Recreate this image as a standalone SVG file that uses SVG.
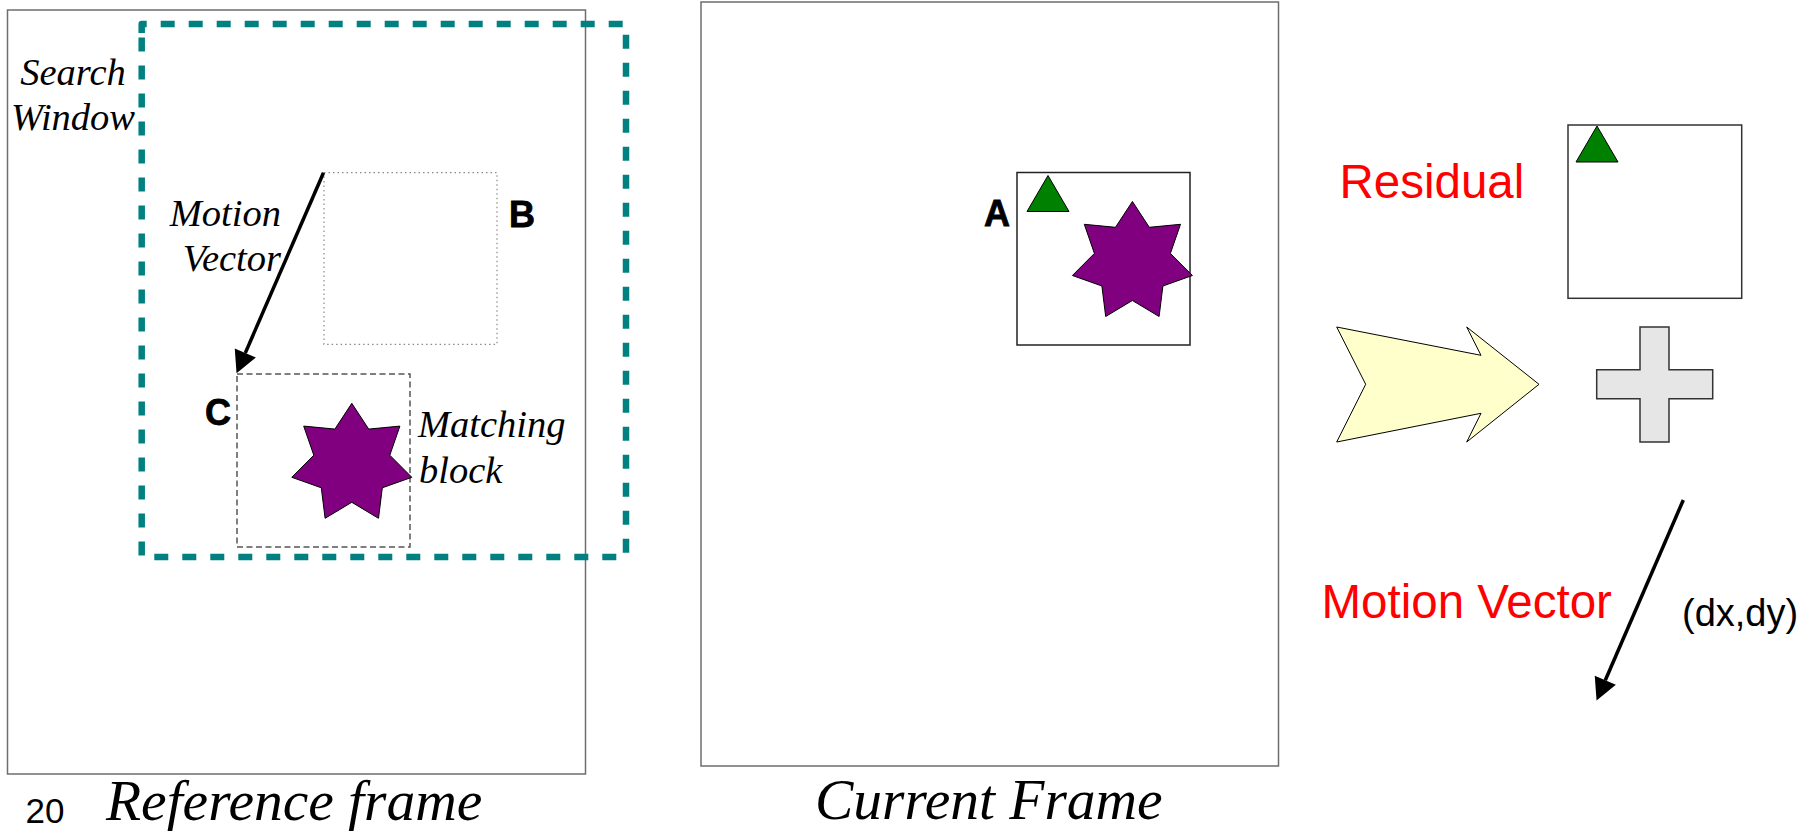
<svg xmlns="http://www.w3.org/2000/svg" width="1804" height="831" viewBox="0 0 1804 831">
  <style>
    .frame { fill: #ffffff; stroke: #6e6e6e; stroke-width: 1.5; }
    .block { fill: none; stroke: #222222; stroke-width: 1.5; }
    .ital { font-family: "Liberation Serif", "Times New Roman", serif; font-style: italic; fill: #000000; }
    .tag { font-family: "Liberation Sans", Arial, sans-serif; font-weight: bold; font-size: 36px; fill: #000000; stroke: #000000; stroke-width: 0.8; }
    .red { font-family: "Liberation Sans", Arial, sans-serif; font-size: 47.5px; fill: #ff0000; }
    .plain { font-family: "Liberation Sans", Arial, sans-serif; fill: #000000; }
    .tri { fill: #008000; stroke: #000000; stroke-width: 1; }
    .star { fill: #800080; stroke: #000000; stroke-width: 1; }
    .vec { fill: none; stroke: #000000; stroke-width: 3.5; }
  </style>
  <defs>
    <!-- seven-pointed star centred on the origin -->
    <path id="star7" d="M0,-60.5 L16.9,-34.7 L48.1,-37.7 L38,-8.6 L60,13.5 L30.5,24 L26.7,54.5 L0,38.5 L-26.7,54.5 L-30.5,24 L-60,13.5 L-38,-8.6 L-48.1,-37.7 L-16.9,-34.7 Z"/>
    <!-- small triangle, apex at the origin -->
    <path id="tri" d="M0,0 L21,36 L-21,36 Z"/>
    <marker id="head" markerUnits="userSpaceOnUse" markerWidth="22" markerHeight="23" refX="0" refY="11.5" orient="auto" overflow="visible">
      <path d="M0,0 L22,11.5 L0,23 Z" fill="#000000"/>
    </marker>
  </defs>

  <rect width="1804" height="831" fill="#ffffff"/>

  <!-- reference frame -->
  <g id="reference-frame">
    <rect class="frame" x="7.5" y="10" width="578" height="764"/>
    <text class="ital" x="106" y="820" font-size="57.5">Reference frame</text>
  </g>

  <!-- page number -->
  <g id="page-number">
    <text class="plain" x="25.5" y="823" font-size="35">20</text>
  </g>

  <!-- search window -->
  <g id="search-window">
    <path d="M141.7,33 V24 H626 V557 H141.7 Z" fill="none" stroke="#008080" stroke-width="6.5" stroke-dasharray="14 14" stroke-linejoin="round"/>
    <text class="ital" font-size="38.5" text-anchor="middle"><tspan x="73" y="85">Search</tspan><tspan x="73" y="130">Window</tspan></text>
  </g>

  <!-- candidate block B -->
  <g id="block-b">
    <rect x="324" y="172.7" width="173" height="171.6" fill="none" stroke="#8a8a8a" stroke-width="1.2" stroke-dasharray="1.5 3"/>
    <text class="tag" x="509" y="226.7">B</text>
  </g>

  <!-- matching block C -->
  <g id="block-c">
    <rect x="237" y="374" width="173" height="173" fill="none" stroke="#555555" stroke-width="1.5" stroke-dasharray="6 3.5"/>
    <use href="#star7" class="star" transform="translate(351.8,463.8)"/>
    <text class="tag" x="205" y="425">C</text>
    <text class="ital" font-size="38.5"><tspan x="418" y="436.7">Matching</tspan><tspan x="419" y="482.7">block</tspan></text>
  </g>

  <!-- current frame -->
  <g id="current-frame">
    <rect class="frame" x="701" y="2" width="577.5" height="764"/>
    <text class="ital" x="815" y="819" font-size="57.5">Current Frame</text>
  </g>

  <!-- current block A -->
  <g id="block-a">
    <rect class="block" x="1017" y="172.5" width="173" height="172.5"/>
    <use href="#tri" class="tri" transform="translate(1048,175.5)"/>
    <use href="#star7" class="star" transform="translate(1132.4,262)"/>
    <text class="tag" x="984" y="225.5">A</text>
  </g>

  <!-- residual block -->
  <g id="residual">
    <rect x="1568" y="125" width="173.7" height="173.3" fill="#ffffff" stroke="#333333" stroke-width="1.5"/>
    <use href="#tri" class="tri" transform="translate(1597,126)"/>
    <text class="red" x="1339.5" y="198.3">Residual</text>
  </g>

  <!-- prediction arrow -->
  <g id="prediction-arrow">
    <path d="M1336.7,327 L1481,355.3 L1466.7,327 L1539,384.3 L1466.7,442 L1481,413.3 L1336.7,442 L1365.7,384.3 Z" fill="#ffffcc" stroke="#000000" stroke-width="1"/>
  </g>

  <!-- plus sign -->
  <g id="plus">
    <path d="M1640,327 H1669 V369.7 H1712.7 V398.7 H1669 V442 H1640 V398.7 H1596.7 V369.7 H1640 Z" fill="#e6e6e6" stroke="#333333" stroke-width="1.5"/>
  </g>

  <!-- motion vector output -->
  <g id="motion-vector-out">
    <text class="red" x="1321.5" y="618.3">Motion Vector</text>
    <text class="plain" x="1682" y="625.7" font-size="38">(dx,dy)</text>
  </g>

  <!-- connectors -->
  <g id="connectors">
    <line class="vec" x1="323.5" y1="172.7" x2="245.3" y2="353" marker-end="url(#head)"/>
    <text class="ital" font-size="38.5" text-anchor="end"><tspan x="281" y="226">Motion</tspan><tspan x="281" y="271">Vector</tspan></text>
    <line class="vec" x1="1683.3" y1="500" x2="1605.3" y2="680.3" marker-end="url(#head)"/>
  </g>
</svg>
